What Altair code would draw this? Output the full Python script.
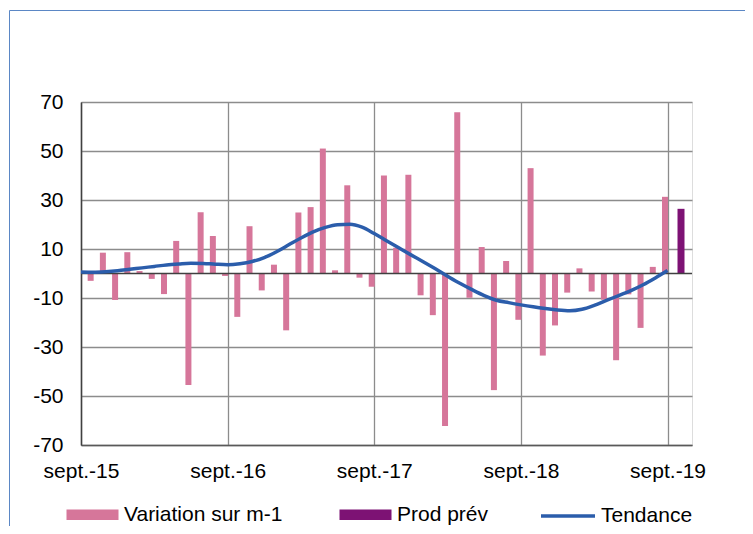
import json
import altair as alt
import pandas as pd

# ---- data ----
x_labels = ["sept.-15", "sept.-16", "sept.-17", "sept.-18", "sept.-19"]
y_ticks = [-70, -50, -30, -10, 10, 30, 50, 70]
series_names = ["Variation sur m-1", "Prod prév", "Tendance"]

variation = [-3, 8.5, -10.8, 8.7, 1, -2.2, -8.4, 13.3, -45.5, 25, 15.3, -1,
             -17.7, 19.3, -6.9, 3.6, -23.2, 24.9, 27.1, 51, 1.3, 36, -1.7, -5.4,
             40, 10.5, 40.3, -8.9, -17, -62.2, 65.8, -9.9, 10.8, -47.6, 5.1, -18.9,
             43, -33.5, -21.2, -7.8, 2.1, -7.3, -10.7, -35.4, -8.5, -22.2, 2.7, 31.3]
prod_prev = [26.4]
tendance = [0.6, 0.5, 0.7, 1.1, 1.7, 2.3, 2.9, 3.5, 3.9, 4.2, 4.1, 3.8,
            3.6, 4.0, 4.9, 6.5, 8.9, 11.7, 14.5, 17.0, 18.8, 19.9, 20.1, 18.9,
            16.3, 13.4, 10.5, 7.6, 4.8, 1.9, -1.1, -4.0, -6.6, -9.0, -10.9, -11.9,
            -12.8, -13.6, -14.3, -14.9, -15.2, -14.6, -13.0, -11.0, -9.0, -7.0, -4.6, -1.8,
            1.2]

# ---- tables ----
df_var = pd.DataFrame({"t": [i + 0.79 for i in range(len(variation))],
                       "v": variation, "serie": series_names[0]})
df_prev = pd.DataFrame({"t": [len(variation) + 1.1 + i for i in range(len(prod_prev))],
                        "v": prod_prev, "serie": series_names[1]})
df_trend = pd.DataFrame({"t": list(range(len(tendance))), "v": tendance,
                         "serie": series_names[2]})
df_zero = pd.DataFrame({"v": [0]})

FONT = "Liberation Sans"
PINK = "#D6769A"
PURPLE = "#7D1274"
BLUE = "#2B5DAB"
GRID = "#8C8C8C"

label_expr = "%s[round(datum.value / 12)]" % json.dumps(x_labels)

x_enc = alt.X("t:Q",
              scale=alt.Scale(domain=[0, 50], nice=False, zero=False, padding=0),
              axis=alt.Axis(values=[0, 12, 24, 36, 48], labelExpr=label_expr,
                            grid=True, gridColor=GRID, gridWidth=1.3,
                            domainColor="#595959", domainWidth=1.5,
                            ticks=False, labelFont=FONT, labelFontSize=21,
                            labelColor="#000000", labelPadding=15,
                            labelFlush=False, labelOverlap=False, title=None))
y_enc = alt.Y("v:Q",
              scale=alt.Scale(domain=[-70, 70], nice=False, zero=False, padding=0),
              axis=alt.Axis(values=y_ticks, grid=True, gridColor=GRID, gridWidth=1.3,
                            labelExpr="'' + datum.value",
                            domainColor="#404040", domainWidth=1.5,
                            ticks=False, labelFont=FONT, labelFontSize=21,
                            labelColor="#000000", labelPadding=18,
                            labelOverlap=False, title=None))

fill_scale = alt.Scale(domain=series_names[:2], range=[PINK, PURPLE])
fill_legend = alt.Legend(orient="none", legendX=-15, legendY=402,
                         direction="horizontal", title=None,
                         symbolType="M-1,-0.52H4.2V0.52H-1Z", symbolSize=400,
                         symbolStrokeWidth=0, symbolOpacity=1,
                         labelFont=FONT, labelFontSize=21, labelColor="#000000",
                         labelOffset=37, labelLimit=400, columnPadding=56, padding=0)

bars_var = alt.Chart(df_var).mark_bar(size=6).encode(
    x=x_enc, y=y_enc, y2=alt.datum(0),
    fill=alt.Fill("serie:N", scale=fill_scale, legend=fill_legend))
bars_prev = alt.Chart(df_prev).mark_bar(size=7).encode(
    x="t:Q", y="v:Q", y2=alt.datum(0),
    fill=alt.Fill("serie:N", scale=fill_scale, legend=fill_legend))

zero_line = alt.Chart(df_zero).mark_rule(color="#404040", strokeWidth=1.5).encode(
    y="v:Q")

trend = alt.Chart(df_trend).mark_line(strokeWidth=3.5, interpolate="monotone").encode(
    x="t:Q", y="v:Q",
    stroke=alt.Stroke("serie:N", scale=alt.Scale(domain=[series_names[2]], range=[BLUE]),
                      legend=alt.Legend(orient="none", legendX=458, legendY=402,
                                        direction="horizontal", title=None,
                                        symbolType="M-1,0H4.4", symbolSize=400,
                                        symbolStrokeWidth=3.5,
                                        labelFont=FONT, labelFontSize=21,
                                        labelColor="#000000", labelOffset=38,
                                        labelLimit=400, padding=0)))

border = alt.Chart(df_zero).mark_rect(fill="transparent", stroke="#5B87C5",
                                      strokeWidth=1, clip=False).encode(
    x=alt.value(-71.5), y=alt.value(-91.5), x2=alt.value(760), y2=alt.value(600))

chart = alt.layer(border, bars_var, bars_prev, zero_line, trend).properties(
    width=611, height=343,
    autosize=alt.AutoSizeParams(type="none"),
    padding={"left": 73, "top": 94, "right": 53, "bottom": 81},
).configure_view(stroke=GRID, strokeWidth=1.3).configure(background="white")

chart.save("out.html", embed_options={"renderer": "svg", "actions": False})
